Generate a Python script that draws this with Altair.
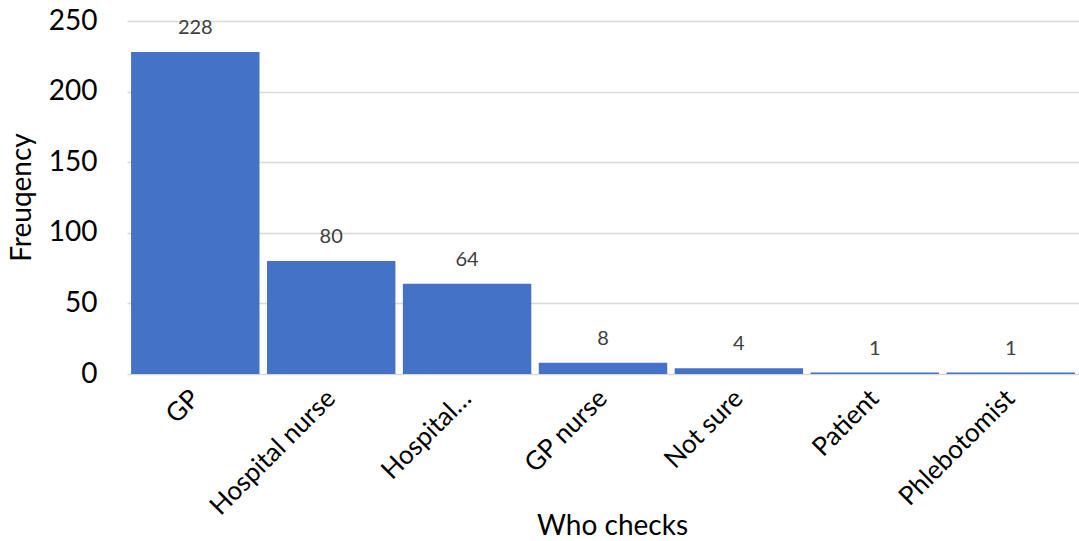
import altair as alt
import pandas as pd

categories = ["GP", "Hospital nurse", "Hospital…", "GP nurse", "Not sure", "Patient", "Phlebotomist"]
values = [228, 80, 64, 8, 4, 1, 1]

df = pd.DataFrame({"cat": categories, "val": values})
FONT = "Lato"

x = alt.X("cat:N", sort=categories, title="Who checks",
          scale=alt.Scale(paddingInner=0.055, paddingOuter=0.03),
          axis=alt.Axis(labelAngle=-45, labelAlign="right", labelBaseline="middle",
                        labelFontSize=26, labelFont=FONT, labelColor="#000000",
                        labelPadding=20, ticks=False, domain=False,
                        titleFontSize=28, titleFont=FONT, titleFontWeight="normal",
                        titleColor="#000000", titleX=485, titleAlign="center",
                        titleY=152, titleBaseline="middle"))
y = alt.Y("val:Q", title="Freuqency",
          scale=alt.Scale(domain=[0, 250], nice=False),
          axis=alt.Axis(values=[0, 50, 100, 150, 200, 250], labelFontSize=28, labelFont=FONT,
                        labelColor="#000000", labelPadding=30, ticks=False, domain=False,
                        gridColor="#d9d9d9", gridWidth=1.5,
                        titleFontSize=28, titleFont=FONT, titleFontWeight="normal",
                        titleColor="#000000", titleX=-105, titleY=176, titleBaseline="middle"))

bars = alt.Chart(df).mark_bar(color="#4472C4").encode(x=x, y=y)
labels = alt.Chart(df).mark_text(dy=-24, baseline="middle", fontSize=20, font=FONT,
                                  color="#404040").encode(
    x=alt.X("cat:N", sort=categories), y="val:Q", text="val:Q")

chart = (bars + labels).properties(
    width=952, height=353,
    autosize=alt.AutoSizeParams(type="none"),
    padding={"left": 127, "top": 21, "right": 0, "bottom": 167},
).configure_view(stroke=None)

chart.save("out.html", embed_options={"renderer": "svg", "actions": False})
